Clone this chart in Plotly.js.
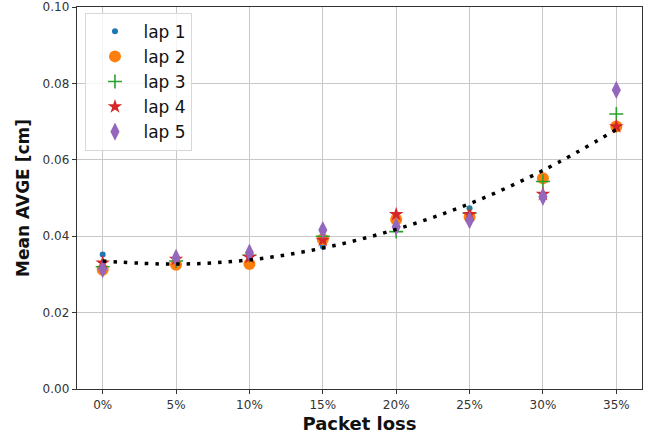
<!DOCTYPE html>
<html>
<head>
<meta charset="utf-8">
<script src="https://cdn.plot.ly/plotly-3.0.1.min.js"></script>
<style>html,body{margin:0;padding:0;background:#fff;}#chart{width:654px;height:439px;}</style>
</head>
<body>
<div id="chart"></div>
<script>
const packetLoss = [0, 5, 10, 15, 20, 25, 30, 35];
const tickLabels = ["0%", "5%", "10%", "15%", "20%", "25%", "30%", "35%"];
const lap1 = [0.0352, 0.0330, 0.0340, 0.0373, 0.0420, 0.0473, 0.0555, 0.0680];
const lap2 = [0.0312, 0.0325, 0.0327, 0.0392, 0.0444, 0.0450, 0.0552, 0.0687];
const lap3 = [0.0320, 0.0335, 0.0350, 0.0400, 0.0412, 0.0460, 0.0543, 0.0720];
const lap4 = [0.0330, 0.0340, 0.0345, 0.0390, 0.0457, 0.0457, 0.0510, 0.0687];
const lap5 = [0.0314, 0.0343, 0.0357, 0.0416, 0.0425, 0.0442, 0.0503, 0.0783];
const fitCurve = [0.0335, 0.0327, 0.0338, 0.0369, 0.0418, 0.0485, 0.0572, 0.0679];
const lapNames = ["lap 1", "lap 2", "lap 3", "lap 4", "lap 5"];

const laps = [lap1, lap2, lap3, lap4, lap5];
const colors = ["#1f77b4", "#ff7f0e", "#2ca02c", "#d62728", "#9467bd"];
const symbols = ["circle", "circle", "cross-thin", "star", "diamond-tall"];
const sizes = [6, 12, 10, 11, 13];

const traces = laps.map((vals, i) => ({
  type: "scatter", mode: "markers", x: packetLoss, y: vals, name: lapNames[i],
  marker: {color: colors[i], symbol: symbols[i], size: sizes[i],
           line: {color: colors[i], width: symbols[i] === "cross-thin" ? 1.6 : 0}}
}));
traces.push({
  type: "scatter", mode: "lines", x: packetLoss, y: fitCurve, showlegend: false,
  line: {color: "#000", width: 3.5, dash: "3.5px,7px", shape: "spline"}
});

const axisCommon = {
  showline: true, mirror: true, linecolor: "#333", linewidth: 1.3,
  showgrid: true, gridcolor: "#c8c8c8", gridwidth: 1,
  ticks: "outside", ticklen: 4, tickcolor: "#333",
  zeroline: false,
  tickfont: {family: "DejaVu Sans", size: 12, color: "#333"}
};

const layout = {
  width: 654, height: 439,
  margin: {l: 77, r: 12, t: 7, b: 50},
  paper_bgcolor: "#fff", plot_bgcolor: "#fff",
  font: {family: "DejaVu Sans", color: "#111"},
  xaxis: Object.assign({}, axisCommon, {
    range: [-1.75, 36.75], tickvals: packetLoss, ticktext: tickLabels,
    title: {text: "Packet loss", font: {family: "DejaVu Sans", size: 18, weight: "bold", color: "#111"}, standoff: 6}
  }),
  yaxis: Object.assign({}, axisCommon, {
    range: [0, 0.1], dtick: 0.02, tick0: 0, tickformat: ".2f",
    title: {text: "Mean AVGE [cm]", font: {family: "DejaVu Sans", size: 17, weight: "bold", color: "#111"}, standoff: 8}
  }),
  legend: {
    x: 0.015, y: 0.985, xanchor: "left", yanchor: "top",
    bgcolor: "rgba(255,255,255,0.8)", bordercolor: "#d8d8d8", borderwidth: 1,
    font: {family: "DejaVu Sans", size: 17, color: "#111"},
    tracegroupgap: 0, itemwidth: 47
  },
  showlegend: true
};

Plotly.newPlot("chart", traces, layout, {displayModeBar: false, staticPlot: true});
</script>
</body>
</html>
